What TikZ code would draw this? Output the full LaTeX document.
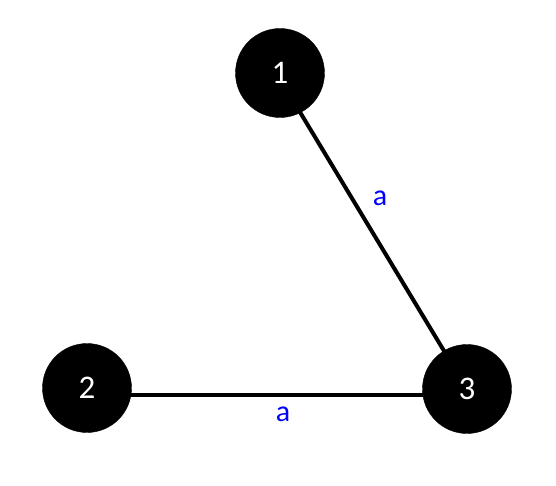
\documentclass[tikz,border=0pt]{standalone}
\usepackage{fontspec}
\setmainfont{Carlito}
\usetikzlibrary{backgrounds}
\begin{document}
\begin{tikzpicture}[x=1pt,y=-1pt,
  vert/.style={circle,fill=black,draw=black,minimum size=89pt,inner sep=0pt,text=white,font=\fontsize{33}{36}\selectfont},
  edge/.style={line width=4pt},
  lbl/.style={text=blue,font=\fontsize{30}{32}\selectfont,inner sep=0pt}]
\useasboundingbox (0,0) rectangle (556,486);
\node[vert] (n1) at (280,73) {1};
\node[vert] (n2) at (87,388) {2};
\node[vert] (n3) at (467,389) {3};
\node[lbl] (l1) at (380,198) {a};
\node[lbl] (l2) at (283,414) {a};
\begin{scope}[on background layer]
\fill[white] (0,0) rectangle (556,486);
\draw[edge] ([yshift=-6]n1.center) -- (n3.center);
\draw[edge] ([yshift=-7]n2.center) -- ([yshift=-6]n3.center);
\end{scope}
\end{tikzpicture}
\end{document}
